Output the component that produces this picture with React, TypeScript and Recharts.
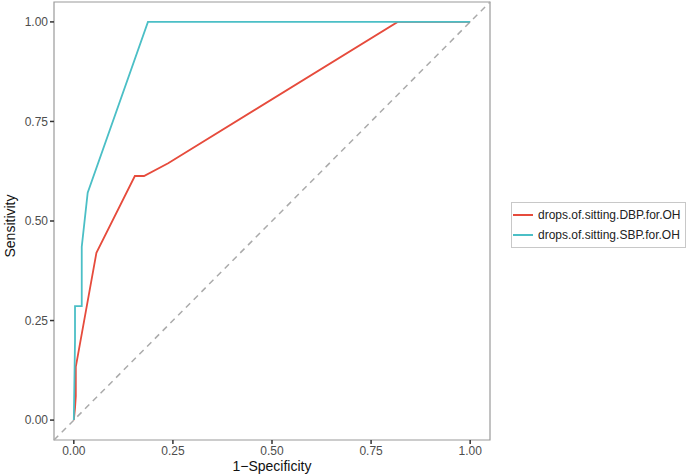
import {
  LineChart,
  Line,
  XAxis,
  YAxis,
  ReferenceLine,
  ReferenceArea,
  Label,
} from 'recharts';

// ROC curves: false positive rate (1-specificity) vs sensitivity
const dbpFpr = [0, 0.003, 0.005, 0.005, 0.057, 0.154, 0.177, 0.238, 0.817, 1];
const dbpTpr = [0, 0.03, 0.06, 0.134, 0.42, 0.613, 0.613, 0.645, 1, 1];

const sbpFpr = [0, 0.003, 0.003, 0.02, 0.02, 0.035, 0.187, 1];
const sbpTpr = [0, 0.2, 0.286, 0.286, 0.435, 0.571, 1, 1];

const axisTicks = [0, 0.25, 0.5, 0.75, 1];

const seriesNames = ['drops.of.sitting.DBP.for.OH', 'drops.of.sitting.SBP.for.OH'];
const seriesColors = ['#E64B3C', '#4BBFC6'];

const dbpData = dbpFpr.map((x, i) => ({ x, y: dbpTpr[i] }));
const sbpData = sbpFpr.map((x, i) => ({ x, y: sbpTpr[i] }));

const font = '"Liberation Sans", Arial, sans-serif';
const tickStyle = { fontSize: 12, fill: '#4d4d4d', fontFamily: font };

function LegendBox() {
  return (
    <div
      style={{
        position: 'absolute',
        left: 511,
        top: 202,
        border: '1px solid #c8c8c8',
        padding: '2px 4px 2px 1px',
        fontFamily: font,
        fontSize: 12,
        color: '#222',
        lineHeight: '20px',
        background: '#fff',
      }}
    >
      {seriesNames.map((name, i) => (
        <div key={name} style={{ display: 'flex', alignItems: 'center' }}>
          <span
            style={{
              display: 'inline-block',
              width: 20,
              height: 2,
              background: seriesColors[i],
              marginRight: 5,
            }}
          />
          {name}
        </div>
      ))}
    </div>
  );
}

export default function App() {
  return (
    <div style={{ position: 'fixed', left: 0, top: 0, width: 700, height: 476, background: '#fff' }}>
      <LineChart width={700} height={476} margin={{ top: 2, right: 210, bottom: 0, left: 0 }}>
        <ReferenceArea
          x1={-0.05}
          x2={1.05}
          y1={-0.05}
          y2={1.05}
          fill="none"
          stroke="#9a9a9a"
          strokeWidth={1.2}
          ifOverflow="visible"
        />
        <XAxis
          type="number"
          dataKey="x"
          domain={[-0.05, 1.05]}
          ticks={axisTicks}
          tickFormatter={(v: number) => v.toFixed(2)}
          allowDataOverflow
          height={36}
          axisLine={false}
          tickLine={{ stroke: '#333', strokeWidth: 1.5 }}
          tickSize={4}
          tick={tickStyle}
        >
          <Label
            content={({ viewBox }: any) => (
              <text
                x={viewBox.x + viewBox.width / 2}
                y={471}
                textAnchor="middle"
                fontSize={14}
                fontFamily={font}
                fill="#111"
              >
                1−Specificity
              </text>
            )}
          />
        </XAxis>
        <YAxis
          type="number"
          dataKey="y"
          domain={[-0.05, 1.05]}
          ticks={axisTicks}
          tickFormatter={(v: number) => v.toFixed(2)}
          allowDataOverflow
          width={54}
          axisLine={false}
          tickLine={{ stroke: '#333', strokeWidth: 1.5 }}
          tickSize={4}
          tick={tickStyle}
        >
          <Label
            content={({ viewBox }: any) => {
              const cy = viewBox.y + viewBox.height / 2 + 5;
              return (
                <text
                  x={15}
                  y={cy}
                  transform={`rotate(-90 15 ${cy})`}
                  textAnchor="middle"
                  fontSize={14}
                  fontFamily={font}
                  fill="#111"
                >
                  Sensitivity
                </text>
              );
            }}
          />
        </YAxis>
        <ReferenceLine
          segment={[
            { x: -0.05, y: -0.05 },
            { x: 1.05, y: 1.05 },
          ]}
          stroke="#aaaaaa"
          strokeWidth={1.5}
          strokeDasharray="6 5"
        />
        <Line
          data={dbpData}
          dataKey="y"
          name={seriesNames[0]}
          type="linear"
          stroke={seriesColors[0]}
          strokeWidth={1.8}
          dot={false}
          isAnimationActive={false}
        />
        <Line
          data={sbpData}
          dataKey="y"
          name={seriesNames[1]}
          type="linear"
          stroke={seriesColors[1]}
          strokeWidth={1.8}
          dot={false}
          isAnimationActive={false}
        />
      </LineChart>
      <LegendBox />
    </div>
  );
}
